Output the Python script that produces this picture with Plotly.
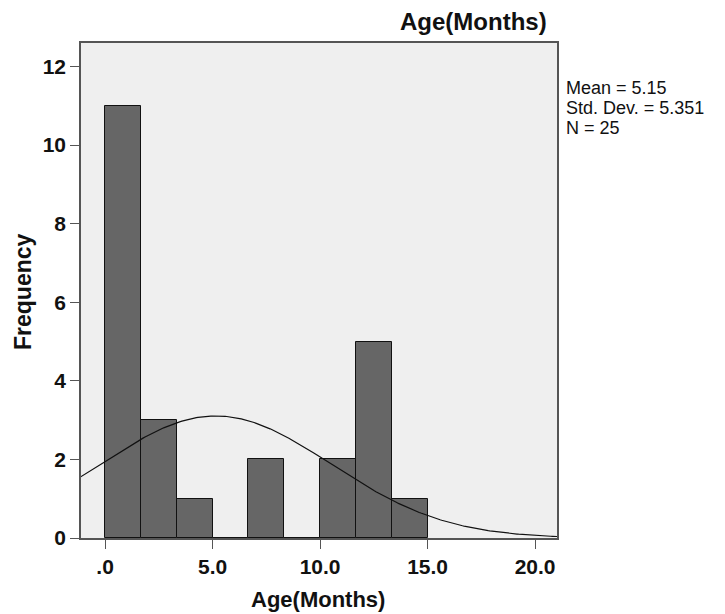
import numpy as np
import plotly.graph_objects as go

bin_starts = [0.0, 1.667, 3.333, 5.0, 6.667, 8.333, 10.0, 11.667, 13.333]
bin_width = 15.0 / 9
counts = [11, 3, 1, 0, 2, 0, 2, 5, 1]
mean_val = 5.15
sd_val = 5.351
n_val = 25
x_tick_vals = [0, 5, 10, 15, 20]
x_tick_text = [".0", "5.0", "10.0", "15.0", "20.0"]
y_tick_vals = [0, 2, 4, 6, 8, 10, 12]
stats_lines = ["Mean = 5.15", "Std. Dev. = 5.351", "N = 25"]

fig = go.Figure()
fig.add_trace(go.Bar(
    x=[s + bin_width / 2 for s in bin_starts], y=counts, width=bin_width,
    marker=dict(color="#666666", line=dict(color="#111111", width=1)),
    showlegend=False, hoverinfo="skip"))

xs = np.linspace(-1.2, 21.1, 300)
ys = n_val * bin_width * np.exp(-0.5 * ((xs - mean_val) / sd_val) ** 2) / (sd_val * np.sqrt(2 * np.pi))
fig.add_trace(go.Scatter(x=xs, y=ys, mode="lines", line=dict(color="#111111", width=1.2),
                         showlegend=False, hoverinfo="skip"))

# page body has an 8px margin; work in figure coords = screen - 8
OFF = 8
W, H = 725 - OFF, 614 - OFF
L, R, T, B = 81 - OFF, 557 - OFF, 43 - OFF, 538 - OFF
font_b = "Liberation Sans"


def px(x):
    return (x - OFF - L) / (R - L)


def py(y):
    return 1 - (y - OFF - T) / (B - T)


fig.update_layout(
    width=W, height=H,
    margin=dict(l=L, r=W - R, t=T, b=H - B),
    paper_bgcolor="white", plot_bgcolor="#efefef",
    bargap=0,
    font=dict(family=font_b, color="#111111"),
    xaxis=dict(range=[-1.12, 21.02], tickvals=x_tick_vals, ticktext=x_tick_text,
               ticks="outside", ticklen=9, tickcolor="#555555", showgrid=False, zeroline=False,
               showline=True, linecolor="#555555", linewidth=1.5, mirror=True, automargin=False,
               tickfont=dict(size=21, family=font_b, color="#111111", weight="bold")),
    yaxis=dict(range=[0, 12.6], tickvals=y_tick_vals,
               ticks="outside", ticklen=9, tickcolor="#555555", showgrid=False, zeroline=False,
               showline=True, linecolor="#555555", linewidth=1.5, mirror=True, automargin=False,
               tickfont=dict(size=21, family=font_b, color="#111111", weight="bold")),
)
# axis titles
fig.add_annotation(xref="paper", yref="paper", x=px(318), y=py(599), text="<b>Age(Months)</b>",
                   showarrow=False, font=dict(size=22), xanchor="center", yanchor="middle")
fig.add_annotation(xref="paper", yref="paper", x=px(23), y=py(292), text="<b>Frequency</b>",
                   showarrow=False, font=dict(size=23), textangle=-90,
                   xanchor="center", yanchor="middle")
# top title
fig.add_annotation(xref="paper", yref="paper", x=px(549), y=py(22), text="<b>Age(Months)</b>",
                   showarrow=False, font=dict(size=24), xanchor="right", yanchor="middle")
# stats
for i, line in enumerate(stats_lines):
    fig.add_annotation(xref="paper", yref="paper", x=px(564), y=py(88 + 20 * i), text=line,
                       showarrow=False, xanchor="left", yanchor="middle",
                       font=dict(size=18, color="#111111"))
fig.write_html("out.html")
